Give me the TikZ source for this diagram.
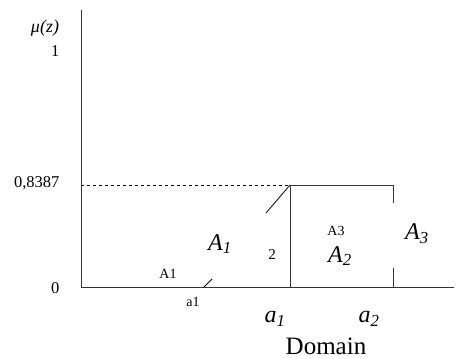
\documentclass[tikz,border=0pt]{standalone}
\usepackage{fontspec}
\setmainfont{Liberation Serif}
\newcommand{\itsub}[2]{\textit{#1}\textsubscript{\textit{#2}}}
\begin{document}
\begin{tikzpicture}[x=1pt, y=-1pt,
  axis/.style={line width=0.9pt, black!80},
  big/.style={font=\fontsize{24}{24}\selectfont},
  tick/.style={font=\fontsize{16.5}{16.5}\selectfont},
  small/.style={font=\fontsize{14}{14}\selectfont}]
\useasboundingbox (0,0) rectangle (456,359);
\coordinate (O) at (81, 287);
\coordinate (Ytop) at (81, 10);
\coordinate (Xend) at (454, 287);
\coordinate (L) at (81, 185);
\coordinate (P) at (290, 185);
\coordinate (Pb) at (290, 287);
\coordinate (Q) at (393, 185);
\coordinate (Qa) at (393, 203);
\coordinate (Qb) at (393, 268);
\coordinate (Qc) at (393, 287);
\coordinate (S1) at (266, 213);
\coordinate (S2) at (204, 287);
\coordinate (S3) at (212, 279);

\draw[axis] (Ytop) -- (O) -- (Xend);
\draw[dashed, line width=0.7pt] (L) -- (P);
\draw[axis] (Pb) -- (P) -- (Q) -- (Qa);
\draw[axis] (Qb) -- (Qc);
\draw[line width=0.8pt] (S1) -- (P);
\draw[line width=0.8pt] (S2) -- (S3);

% axis labels
\node[font=\fontsize{18}{18}\selectfont\itshape] (mu) at (45, 28) {μ(z)};
\node[tick, anchor=base east] (one) at (63, 56) {1};
\node[tick, anchor=base east] (lvl) at (63, 187) {0,8387};
\node[tick, anchor=base east] (zero) at (63, 293) {0};

% region labels
\node[small] (A1s) at (168, 274) {A1};
\node[small] (a1s) at (193, 302) {a1};
\node[big] (A1) at (220, 244) {\itsub{A}{1}};
\node[font=\fontsize{15}{15}\selectfont] (two) at (272, 255) {2};
\node[small] (A3s) at (336, 231) {A3};
\node[big] (A2) at (340, 256) {\itsub{A}{2}};
\node[big] (A3) at (417, 234) {\itsub{A}{3}};
\node[big] (a1) at (275, 319) {\itsub{a}{1}};
\node[big] (a2) at (369, 319) {\itsub{a}{2}};
\node[font=\fontsize{25}{25}\selectfont, anchor=base] (dom) at (326, 354) {Domain};
\end{tikzpicture}
\end{document}
